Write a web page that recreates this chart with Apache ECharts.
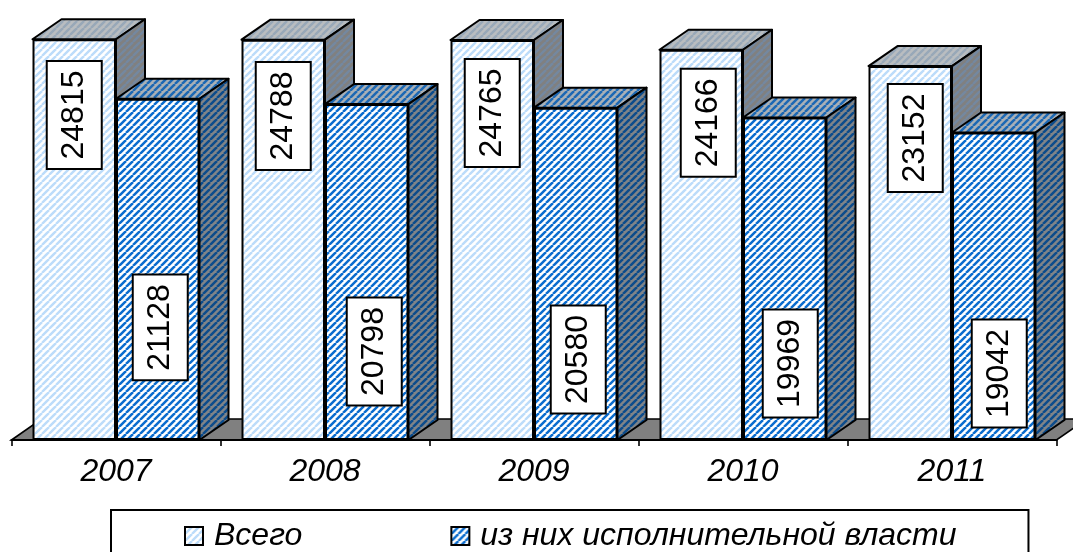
<!DOCTYPE html>
<html>
<head>
<meta charset="utf-8">
<style>html,body{margin:0;padding:0;background:#fff}#c{width:1073px;height:552px}</style>
<script src="https://cdn.jsdelivr.net/npm/echarts@6/dist/echarts.min.js"></script>
</head>
<body>
<div id="c"></div>
<script>
const categories = ['2007', '2008', '2009', '2010', '2011'];
const totalName = 'Всего';
const execName = 'из них исполнительной власти';
const totalValues = [24815, 24788, 24765, 24166, 23152];
const execValues = [21128, 20798, 20580, 19969, 19042];
const totalLabelShiftX = [0, 0, 0, 7, 5];
const totalLabelShiftY = [-124.6, -123.8, -127, -122, -115];
const execLabelShiftX = [2.5, 7.5, 2.5, 5.5, 5.5];
const execLabelShiftY = [58, 79.5, 85.7, 84.7, 87.3];

const BAR = 83.5, DX = 29, DY = 20, FONT = 'Liberation Sans, Arial, sans-serif';

function hatch(bg, fg, w) {
  const size = 7, cv = document.createElement('canvas');
  cv.width = size; cv.height = size;
  const g = cv.getContext('2d');
  g.fillStyle = bg; g.fillRect(0, 0, size, size);
  g.strokeStyle = fg; g.lineWidth = w;
  [-size, 0, size].forEach(function (o) {
    g.beginPath(); g.moveTo(o, size); g.lineTo(o + size, 0); g.stroke();
  });
  return { image: cv, repeat: 'repeat' };
}
const fills = {
  totalFront: hatch('#ffffff', '#bcdcfa', 2.4),
  totalTop: hatch('#b9bdc0', '#98a8b8', 2.4),
  totalSide: hatch('#808080', '#7488a0', 2.4),
  execFront: hatch('#ffffff', '#0a6cce', 2.5),
  execTop: hatch('#a9b0b6', '#1c68b4', 2.5),
  execSide: hatch('#808488', '#0c4c8c', 2.5)
};

function depth(side, topFill, sideFill) {
  return function (params, api) {
    const p = api.coord([api.value(0), api.value(1)]);
    const x0 = side === 0 ? p[0] - BAR : p[0], x1 = x0 + BAR, y = p[1];
    const base = api.coord([api.value(0), 0])[1];
    const st = { stroke: '#000', lineWidth: 2, lineJoin: 'round' };
    return {
      type: 'group',
      children: [
        { type: 'polygon', shape: { points: [[x0, y], [x0 + DX, y - DY], [x1 + DX, y - DY], [x1, y]] },
          style: Object.assign({ fill: topFill }, st) },
        { type: 'polygon', shape: { points: [[x1, y], [x1 + DX, y - DY], [x1 + DX, base - DY], [x1, base]] },
          style: Object.assign({ fill: sideFill }, st) }
      ]
    };
  };
}
function floor(params, api) {
  const c = params.coordSys, b = c.y + c.height;
  return { type: 'polygon',
    shape: { points: [[c.x, b], [c.x + 30, b - 21], [c.x + c.width + 30, b - 21], [c.x + c.width, b]] },
    style: { fill: '#808080', stroke: '#000', lineWidth: 1.6 } };
}
function rows(vals) { return vals.map(function (v, i) { return [i, v]; }); }
function labelled(vals, shiftX, shiftY) {
  return vals.map(function (v, i) {
    return { value: v, label: { offset: [-shiftY[i], shiftX[i]] } };
  });
}
const labelStyle = {
  show: true, position: 'inside', rotate: 90, color: '#000', fontFamily: FONT, fontSize: 32,
  backgroundColor: '#fff', borderColor: '#000', borderWidth: 2, padding: [10.5, 8.5, 10.5, 8.5]
};

const chart = echarts.init(document.getElementById('c'), null, { renderer: 'canvas' });
chart.setOption({
  animation: false,
  backgroundColor: '#fff',
  grid: { left: 11.5, width: 1045, top: 36.25, height: 403.75, containLabel: false },
  legend: {
    left: 111, top: 510, orient: 'horizontal',
    data: [totalName, execName], icon: 'rect',
    itemWidth: 18, itemHeight: 18, itemGap: 148,
    padding: [10, 72, 20, 73],
    borderColor: '#000', borderWidth: 2, backgroundColor: '#fff',
    textStyle: { fontFamily: FONT, fontStyle: 'italic', fontSize: 32, color: '#000', padding: [0, 0, 0, 6] },
    selectedMode: false
  },
  xAxis: {
    type: 'category', data: categories, z: 6,
    axisLine: { lineStyle: { color: '#000', width: 2 } },
    axisTick: { show: true, alignWithLabel: false, length: 6, lineStyle: { color: '#000', width: 1.6 } },
    axisLabel: { color: '#000', fontFamily: FONT, fontStyle: 'italic', fontSize: 32, margin: 16 }
  },
  yAxis: { type: 'value', min: 0, max: 25000, show: false, splitLine: { show: false } },
  series: [
    { type: 'custom', name: 'floor', z: 1, clip: false, silent: true, renderItem: floor, data: [[0, 0]] },
    { type: 'custom', name: 'totalDepth', z: 2, clip: false, silent: true,
      renderItem: depth(0, fills.totalTop, fills.totalSide), data: rows(totalValues) },
    { type: 'custom', name: 'execDepth', z: 2.5, clip: false, silent: true,
      renderItem: depth(1, fills.execTop, fills.execSide), data: rows(execValues) },
    { type: 'bar', name: totalName, z: 3, barWidth: BAR, barGap: 0, clip: false,
      itemStyle: { color: fills.totalFront, borderColor: '#000', borderWidth: 2 },
      label: labelStyle, data: labelled(totalValues, totalLabelShiftX, totalLabelShiftY) },
    { type: 'bar', name: execName, z: 3, barWidth: BAR, barGap: 0, clip: false,
      itemStyle: { color: fills.execFront, borderColor: '#000', borderWidth: 2 },
      label: labelStyle, data: labelled(execValues, execLabelShiftX, execLabelShiftY) }
  ]
});
</script>
</body>
</html>
